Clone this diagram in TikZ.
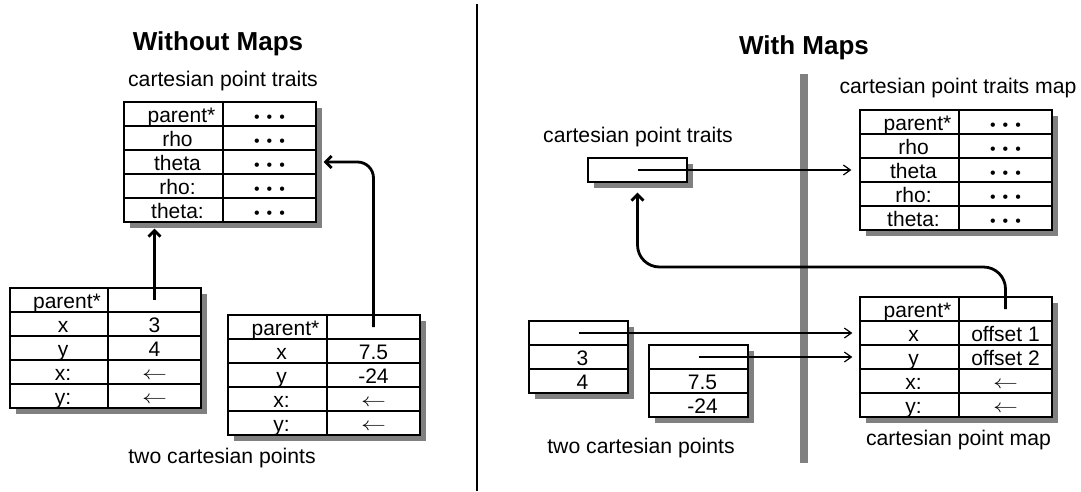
\documentclass[tikz,border=0pt]{standalone}
\usepackage{fontspec}
\usepackage{graphicx}
\setmainfont{Liberation Sans}
\usetikzlibrary{arrows.meta,calc}
\definecolor{shadowgray}{gray}{0.5}
\newcommand\mydots{{\fontsize{16}{16}\selectfont •\hspace{7pt}•\hspace{7pt}•}}
\newcommand\la{\raisebox{1pt}{\scalebox{1.2}[0.9]{$\leftarrow$}}}
\tikzset{
  cell/.style={draw, fill=white, line width=1.3pt, minimum height=24pt,
    inner xsep=0pt, inner ysep=0pt, text height=17pt, text depth=1pt,
    font=\fontsize{21}{24}\selectfont},
  kcell/.style={cell, minimum width=99pt, execute at begin node={\hspace*{8pt}}},
  vcell/.style={cell, minimum width=93pt},
  shadow/.style={fill=shadowgray},
  lbl/.style={font=\fontsize{21.2}{24}\selectfont, anchor=base, inner sep=0pt},
  ttl/.style={font=\bfseries\fontsize{26}{30}\selectfont, anchor=base, inner sep=0pt},
  bigarrow/.style={line width=2.8pt, -{Straight Barb[length=6pt,width=12pt]}, rounded corners=16pt},
  thinarrow/.style={line width=1.2pt, -{Straight Barb[length=7pt,width=10pt]}},
}
\begin{document}
\begin{tikzpicture}[x=1pt,y=-1pt]
\useasboundingbox (0,0) rectangle (1081,491);

% ---------------- Left half ----------------
\node[ttl] (t1) at (218,50) {Without Maps};
\node[lbl] (lt) at (223,86) {cartesian point traits};

\fill[shadow] (130,108) rectangle (322,228);
\node[kcell] (T1k) at (173.5,114) {\hspace*{8pt}parent*};
\node[vcell] (T1v) at (269.5,114) {\mydots};
\node[kcell] (T2k) at (173.5,138) {rho};
\node[vcell] (T2v) at (269.5,138) {\mydots};
\node[kcell] (T3k) at (173.5,162) {theta};
\node[vcell] (T3v) at (269.5,162) {\mydots};
\node[kcell] (T4k) at (173.5,186) {rho:};
\node[vcell] (T4v) at (269.5,186) {\mydots};
\node[kcell] (T5k) at (173.5,210) {theta:};
\node[vcell] (T5v) at (269.5,210) {\mydots};

\fill[shadow] (16,294) rectangle (207,414);
\node[kcell, minimum width=98pt] (A1k) at (59,300) {\hspace*{8pt}parent*};
\node[vcell] (A1v) at (154.5,300) {};
\node[kcell, minimum width=98pt] (A2k) at (59,324) {x};
\node[vcell] (A2v) at (154.5,324) {3};
\node[kcell, minimum width=98pt] (A3k) at (59,348) {y};
\node[vcell] (A3v) at (154.5,348) {4};
\node[kcell, minimum width=98pt] (A4k) at (59,372) {x:};
\node[vcell] (A4v) at (154.5,372) {\la};
\node[kcell, minimum width=98pt] (A5k) at (59,396) {y:};
\node[vcell] (A5v) at (154.5,396) {\la};

\fill[shadow] (234,321) rectangle (426,441);
\node[kcell] (B1k) at (277.5,327) {\hspace*{8pt}parent*};
\node[vcell] (B1v) at (373.5,327) {};
\node[kcell] (B2k) at (277.5,351) {x};
\node[vcell] (B2v) at (373.5,351) {7.5};
\node[kcell] (B3k) at (277.5,375) {y};
\node[vcell] (B3v) at (373.5,375) {-24};
\node[kcell] (B4k) at (277.5,399) {x:};
\node[vcell] (B4v) at (373.5,399) {\la};
\node[kcell] (B5k) at (277.5,423) {y:};
\node[vcell] (B5v) at (373.5,423) {\la};

\node[lbl] (lb) at (222,463) {two cartesian points};

\draw[bigarrow] (A1v.center) -- ($(A1v.center |- T5k.south)+(0,6)$);
\draw[bigarrow] (B1v.center) |- ($(T3v.east)+(7,0)$);

% divider
\draw[line width=2.5pt] (477,4) -- (477,491);

% ---------------- Right half ----------------
\node[ttl] (t2) at (804,54) {With Maps};
\draw[line width=8pt, draw=shadowgray] (804,74) -- (804,463);

\node[lbl] (rt) at (638,142) {cartesian point traits};
\fill[shadow] (594,164) rectangle (693,188);
\node[cell, minimum width=99pt] (CT) at (637.5,170) {};

\node[lbl] (rm) at (958,93) {cartesian point traits map};
\fill[shadow] (866,116) rectangle (1058,236);
\node[kcell] (M1k) at (909.5,122) {\hspace*{8pt}parent*};
\node[vcell] (M1v) at (1005.5,122) {\mydots};
\node[kcell] (M2k) at (909.5,146) {rho};
\node[vcell] (M2v) at (1005.5,146) {\mydots};
\node[kcell] (M3k) at (909.5,170) {theta};
\node[vcell] (M3v) at (1005.5,170) {\mydots};
\node[kcell] (M4k) at (909.5,194) {rho:};
\node[vcell] (M4v) at (1005.5,194) {\mydots};
\node[kcell] (M5k) at (909.5,218) {theta:};
\node[vcell] (M5v) at (1005.5,218) {\mydots};

\fill[shadow] (535,327) rectangle (634,399);
\node[kcell] (P1) at (578.5,333) {};
\node[kcell] (P2) at (578.5,357) {3};
\node[kcell] (P3) at (578.5,381) {4};

\fill[shadow] (655,351) rectangle (754,423);
\node[kcell] (Q1) at (698.5,357) {};
\node[kcell] (Q2) at (698.5,381) {7.5};
\node[kcell] (Q3) at (698.5,405) {-24};

\node[lbl] (rb) at (641,453) {two cartesian points};

\fill[shadow] (866,303) rectangle (1058,423);
\node[kcell] (N1k) at (909.5,309) {\hspace*{8pt}parent*};
\node[vcell] (N1v) at (1005.5,309) {};
\node[kcell] (N2k) at (909.5,333) {x};
\node[vcell] (N2v) at (1005.5,333) {offset 1};
\node[kcell] (N3k) at (909.5,357) {y};
\node[vcell] (N3v) at (1005.5,357) {offset 2};
\node[kcell] (N4k) at (909.5,381) {x:};
\node[vcell] (N4v) at (1005.5,381) {\la};
\node[kcell] (N5k) at (909.5,405) {y:};
\node[vcell] (N5v) at (1005.5,405) {\la};
\node[lbl] (rn) at (958.5,445) {cartesian point map};

\draw[thinarrow] (CT.center) -- ($(M3k.west)+(-8,0)$);
\draw[thinarrow] (P1.center) -- ($(N2k.west)+(-7,0)$);
\draw[thinarrow] (Q1.center) -- ($(N3k.west)+(-7,0)$);

\coordinate (ylev) at (0,267);
\draw[bigarrow, rounded corners=22pt] (N1v.center) -- (N1v.center |- ylev)
  -- (CT.center |- ylev) -- ($(CT.south)+(0,10)$);
\end{tikzpicture}
\end{document}
